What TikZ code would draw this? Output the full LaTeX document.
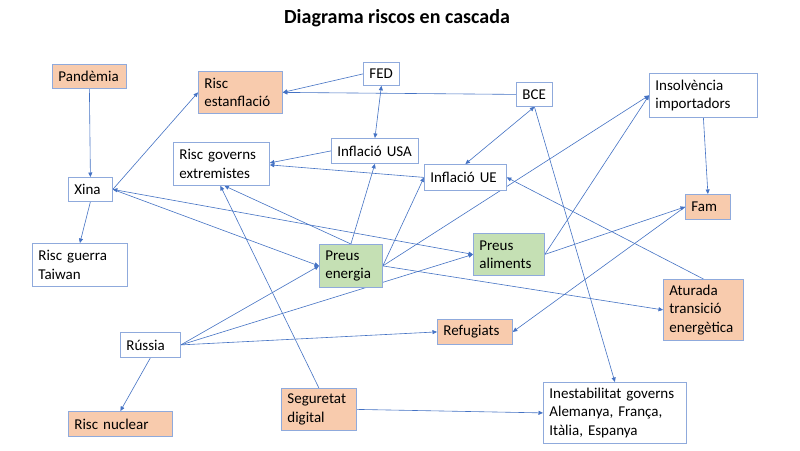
\documentclass[tikz,border=0pt]{standalone}
\usepackage{fontspec}
\setmainfont{Carlito}
\usetikzlibrary{arrows.meta,backgrounds}
\definecolor{bord}{HTML}{8FAADC}
\definecolor{arr}{HTML}{4472C4}
\definecolor{orng}{HTML}{F8CBAD}
\definecolor{grn}{HTML}{C5E0B4}
\begin{document}
\begin{tikzpicture}[x=1pt,y=-1pt,
 box/.style={draw=bord, line width=0.8pt, fill=white, anchor=north west, inner xsep=6pt, inner ysep=2pt, align=left, font=\fontsize{15}{18.3}\selectfont},
 ora/.style={box, fill=orng},
 gre/.style={box, fill=grn},
 link/.style={draw=arr, line width=0.6pt, -{Triangle[length=4.5pt,width=4pt]}},
 blink/.style={draw=arr, line width=0.6pt, {Triangle[length=4.5pt,width=4pt]}-{Triangle[length=4.5pt,width=4pt]}}]
\useasboundingbox (0,0) rectangle (800,450);

\node[font=\fontsize{20}{24}\selectfont\bfseries] (title) at (397,18) {Diagrama riscos en cascada};

\node[ora, text width=62pt, minimum height=24pt] (pand) at (52,64) {Pandèmia};
\node[ora, text width=72pt, minimum height=42pt] (estan) at (198,71) {Risc\\estanflació};
\node[box, text width=84pt, minimum height=43pt] (govern) at (173,142) {Risc~governs\\extremistes};
\node[box, text width=32pt, minimum height=24pt] (xina) at (68,177) {Xina};
\node[box, text width=24pt, minimum height=23pt] (fed) at (363,62) {FED};
\node[box, text width=24pt, minimum height=24pt] (bce) at (516,82) {BCE};
\node[box, text width=75pt, minimum height=25pt] (usa) at (331,138) {Inflació~USA};
\node[box, text width=70pt, minimum height=26pt] (ue) at (424,164) {Inflació~UE};
\node[box, text width=96pt, minimum height=44pt] (insolv) at (649,73) {Insolvència\\importadors};
\node[ora, text width=33pt, minimum height=25pt] (fam) at (685,194) {Fam};
\node[box, text width=83pt, minimum height=43pt] (taiwan) at (32,243) {Risc~guerra\\Taiwan};
\node[gre, text width=51pt, minimum height=43pt] (energia) at (319,244) {Preus\\energia};
\node[gre, text width=59pt, minimum height=42pt] (aliments) at (473,233) {Preus\\aliments};
\node[ora, text width=63pt, minimum height=25pt] (refug) at (437,319) {Refugiats};
\node[ora, text width=68pt, minimum height=61pt] (aturada) at (663,279) {Aturada\\transició\\energètica};
\node[box, text width=48pt, minimum height=25pt] (russia) at (120,332) {Rússia};
\node[ora, text width=92pt, minimum height=25pt] (nuclear) at (68,411) {Risc~nuclear};
\node[ora, text width=63pt, minimum height=42pt] (segur) at (281,388) {Seguretat\\digital};
\node[box, text width=131pt, minimum height=61pt] (inest) at (543,382) {Inestabilitat~governs\\Alemanya,~França,\\Itàlia,~Espanya};

\begin{scope}[on background layer]
\fill[white] (0,0) rectangle (800,450);
\draw[link] (pand.south) -- (xina.north);
\draw[link] (xina.east) -- (estan.west);
\draw[link] (xina.south) -- (taiwan.north);
\draw[link] (xina.east) -- (energia.west);
\draw[blink] (xina.east) -- (aliments.west);
\draw[link] (usa.west) -- ([yshift=1pt]govern.east);
\draw[link] (ue.west) -- ([yshift=-1pt]govern.east);
\draw[blink] (fed.south) -- (usa.north);
\draw[link] (fed.west) -- (estan.east);
\draw[link] (bce.west) -- (estan.east);
\draw[blink] (bce.south) -- (ue.north);
\draw[link] (bce.south) -- (inest.north);
\draw[link] (energia.north) -- (usa.south);
\draw[link] (energia.north) -- ([xshift=3pt]govern.south);
\draw[link] (segur.north) -- ([xshift=-1pt]govern.south);
\draw[link] (energia.east) -- (ue.west);
\draw[link] (energia.east) -- (insolv.west);
\draw[link] (energia.east) -- (aturada.west);
\draw[link] (aliments.east) -- (insolv.west);
\draw[link] (aliments.east) -- (fam.west);
\draw[link] (insolv.south) -- (fam.north);
\draw[link] (fam.west) -- (refug.east);
\draw[link] (aturada.north) -- (ue.east);
\draw[link] (russia.east) -- (energia.west);
\draw[link] (russia.east) -- (aliments.west);
\draw[link] (russia.east) -- (refug.west);
\draw[link] (russia.south) -- (nuclear.north);
\draw[link] (segur.east) -- (inest.west);
\end{scope}
\end{tikzpicture}
\end{document}
